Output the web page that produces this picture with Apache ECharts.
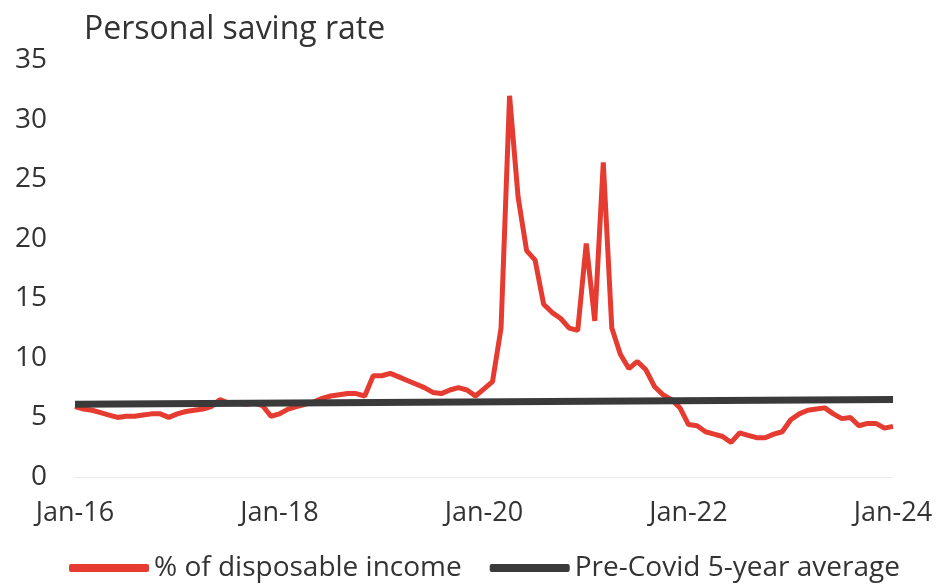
<!DOCTYPE html>
<html>
<head>
<meta charset="utf-8">
<script src="https://cdn.jsdelivr.net/npm/echarts@6/dist/echarts.min.js"></script>
<style>
  html, body { margin: 0; padding: 0; background: #fff; }
  #chart { width: 938px; height: 587px; }
</style>
</head>
<body>
<div id="chart"></div>
<script>
// months Jan-16 .. Jan-24
const months = [];
const monthNames = ['Jan','Feb','Mar','Apr','May','Jun','Jul','Aug','Sep','Oct','Nov','Dec'];
for (let y = 16; y <= 24; y++) {
    for (let m = 0; m < 12; m++) {
        if (y === 24 && m > 0) break;
        months.push(monthNames[m] + '-' + y);
    }
}

// personal saving rate, % of disposable income
const savingRate = [
    5.9, 5.7, 5.6, 5.4, 5.2, 5.0, 5.1, 5.1, 5.2, 5.3, 5.3, 5.0,   // 2016
    5.3, 5.5, 5.6, 5.7, 5.9, 6.5, 6.2, 6.2, 6.1, 6.2, 6.0, 5.1,   // 2017
    5.3, 5.7, 5.9, 6.1, 6.3, 6.6, 6.8, 6.9, 7.0, 7.0, 6.8, 8.5,   // 2018
    8.5, 8.7, 8.4, 8.1, 7.8, 7.5, 7.1, 7.0, 7.3, 7.5, 7.3, 6.8,   // 2019
    7.4, 8.0, 12.5, 32.0, 23.5, 19.0, 18.2, 14.5, 13.8, 13.3, 12.5, 12.3, // 2020
    19.6, 13.1, 26.4, 12.5, 10.3, 9.1, 9.7, 9.0, 7.6, 6.9, 6.5, 5.8,     // 2021
    4.4, 4.3, 3.8, 3.6, 3.4, 2.9, 3.7, 3.5, 3.3, 3.3, 3.6, 3.8,   // 2022
    4.8, 5.3, 5.6, 5.7, 5.8, 5.3, 4.9, 5.0, 4.3, 4.5, 4.5, 4.1,   // 2023
    4.25                                                          // Jan-24
];

// pre-Covid 5-year average (endpoints as drawn)
const avgEnds = [['Jan-16', 6.1], ['Jan-24', 6.5]];

const yTicks = { min: 0, max: 35, interval: 5 };

const chart = echarts.init(document.getElementById('chart'));
const font = '"Open Sans", "Noto Sans", sans-serif';

chart.setOption({
    backgroundColor: '#fff',
    animation: false,
    title: {
        text: 'Personal saving rate',
        left: 79,
        top: 9,
        textStyle: { fontFamily: font, fontSize: 32, fontWeight: 'normal', color: '#333' }
    },
    legend: {
        top: 549,
        left: 64,
        itemWidth: 80,
        itemHeight: 8,
        itemGap: 28,
        icon: 'roundRect',
        textStyle: { fontFamily: font, fontSize: 28, color: '#333' },
        data: ['% of disposable income', 'Pre-Covid 5-year average']
    },
    grid: { left: 75, right: 45, top: 60, bottom: 110 },
    xAxis: {
        type: 'category',
        data: months,
        boundaryGap: false,
        axisLine: { show: true, lineStyle: { color: '#e6e6e6', type: 'dotted', width: 1 } },
        axisTick: { show: false },
        axisLabel: {
            interval: function (i) { return i % 24 === 0; },
            margin: 23,
            fontFamily: font,
            fontSize: 27,
            color: '#333'
        },
        splitLine: { show: false }
    },
    yAxis: {
        type: 'value',
        min: yTicks.min,
        max: yTicks.max,
        interval: yTicks.interval,
        axisLine: { show: false },
        axisTick: { show: false },
        axisLabel: { margin: 28, fontFamily: font, fontSize: 28, color: '#333' },
        splitLine: { show: false }
    },
    series: [
        {
            name: '% of disposable income',
            type: 'line',
            data: savingRate,
            showSymbol: false,
            lineStyle: { color: '#e63b30', width: 5 },
            itemStyle: { color: '#e63b30' },
            z: 2
        },
        {
            name: 'Pre-Covid 5-year average',
            type: 'line',
            data: avgEnds,
            showSymbol: false,
            lineStyle: { color: '#3a3a3a', width: 7 },
            itemStyle: { color: '#3a3a3a' },
            z: 3
        }
    ]
});
</script>
</body>
</html>
